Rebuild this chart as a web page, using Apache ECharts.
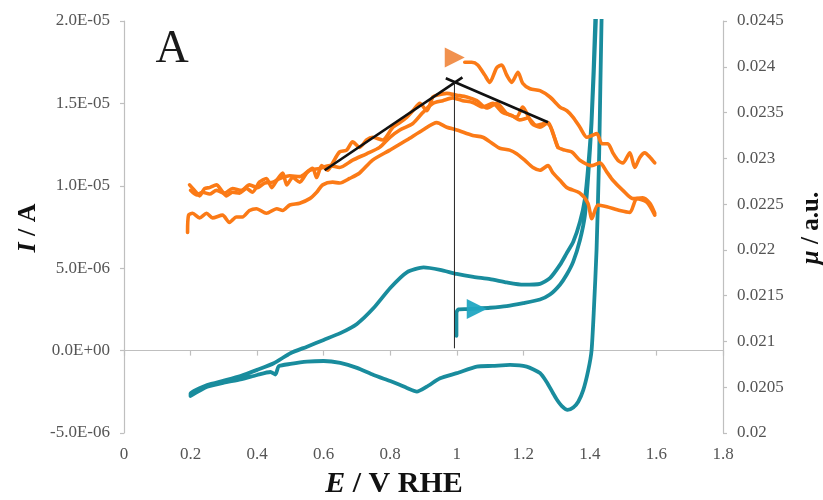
<!DOCTYPE html>
<html>
<head>
<meta charset="utf-8">
<script src="https://cdn.jsdelivr.net/npm/echarts@6/dist/echarts.min.js"></script>
<style>html,body{margin:0;padding:0;background:#fff;}#c{width:823px;height:500px;}</style>
</head>
<body>
<div id="c"></div>
<script>
// ---- axis settings ----
const xTicks = [0, 0.2, 0.4, 0.6, 0.8, 1, 1.2, 1.4, 1.6, 1.8];
const currentRange = [-5e-6, 2e-5, 5e-6];
const muRange = [0.02, 0.0245, 0.0005];

// ---- cyclic voltammogram (E / V, I / A), in scan order ----
const cvScan = [
  [0.999,0.9e-6],[0.999,2.3e-6],[1.005,2.5e-6],[1.03,2.52e-6],[1.06,2.55e-6],[1.1,2.6e-6],[1.15,2.7e-6],
  [1.2,2.88e-6],[1.25,3.1e-6],[1.28,3.4e-6],[1.31,4.0e-6],[1.33,4.6e-6],[1.35,5.4e-6],[1.37,6.7e-6],
  [1.385,8.2e-6],[1.395,10.6e-6],[1.405,13.8e-6],[1.418,2.0e-5],[1.425,2.6e-5],
  [1.445,2.6e-5],[1.435,2.0e-5],[1.428,1.2e-5],[1.42,6.1e-6],[1.412,2.5e-6],[1.405,0],[1.395,-1.2e-6],
  [1.38,-2.4e-6],[1.365,-3.1e-6],[1.35,-3.45e-6],[1.333,-3.6e-6],[1.315,-3.35e-6],[1.3,-2.95e-6],
  [1.289,-2.57e-6],[1.27,-1.9e-6],[1.25,-1.36e-6],[1.21,-0.97e-6],[1.16,-0.87e-6],[1.108,-0.93e-6],
  [1.06,-0.97e-6],[1.0,-1.37e-6],[0.95,-1.68e-6],[0.91,-2.19e-6],[0.88,-2.49e-6],[0.85,-2.27e-6],
  [0.83,-2.09e-6],[0.8,-1.85e-6],[0.75,-1.48e-6],[0.7,-1.05e-6],[0.65,-0.75e-6],[0.6,-0.63e-6],
  [0.55,-0.67e-6],[0.5,-0.81e-6],[0.465,-0.95e-6],[0.455,-1.45e-6],[0.44,-1.3e-6],[0.4,-1.48e-6],
  [0.35,-1.75e-6],[0.3,-1.95e-6],[0.25,-2.2e-6],[0.2,-2.75e-6],
  [0.2,-2.6e-6],[0.25,-2.09e-6],[0.3,-1.82e-6],[0.35,-1.54e-6],[0.4,-1.17e-6],[0.45,-0.77e-6],
  [0.5,-0.16e-6],[0.55,0.24e-6],[0.6,0.65e-6],[0.65,1.06e-6],[0.7,1.62e-6],[0.75,2.58e-6],[0.8,3.8e-6],
  [0.85,4.75e-6],[0.9,5.05e-6],[0.95,4.9e-6],[1.0,4.65e-6],[1.05,4.47e-6],[1.1,4.34e-6],[1.15,4.14e-6],
  [1.2,4.0e-6],[1.25,4.05e-6],[1.28,4.4e-6],[1.31,5.2e-6],[1.33,5.9e-6],[1.35,6.6e-6],[1.37,7.8e-6],
  [1.385,9.2e-6],[1.395,11.2e-6],[1.405,14e-6],[1.416,2.0e-5],[1.422,2.6e-5]
];
const cvArrow = [[1.06, 2.53e-6]];

// ---- XAS signal mu (a.u.) vs E ----
const muScanA = [
  [1.024,0.02405],[1.045,0.02405],[1.063,0.02402],[1.084,0.02391],[1.099,0.02383],[1.120,0.02399],
  [1.135,0.02402],[1.150,0.02391],[1.165,0.02383],[1.184,0.02394],[1.198,0.02382],[1.220,0.02376],
  [1.250,0.02374],[1.280,0.02367],[1.310,0.02356],[1.331,0.02352],[1.349,0.02345],[1.370,0.02334],
  [1.391,0.02323],[1.406,0.02325],[1.421,0.02327],[1.436,0.02316],[1.454,0.02316],[1.469,0.02306],
  [1.484,0.02298],[1.499,0.02295],[1.520,0.02306],[1.535,0.02290],[1.550,0.02301],[1.565,0.02306],
  [1.581,0.02301],[1.595,0.02295]
];
const muScanB = [
  [0.197,0.02271],[0.212,0.02265],[0.227,0.02259],[0.242,0.02267],[0.257,0.02268],[0.278,0.02271],
  [0.293,0.02265],[0.308,0.02259],[0.326,0.02263],[0.347,0.02262],[0.368,0.02267],[0.386,0.02263],
  [0.407,0.02274],[0.428,0.02278],[0.444,0.02268],[0.459,0.02276],[0.477,0.02284],[0.489,0.02271],
  [0.507,0.02279],[0.528,0.02274],[0.549,0.02284],[0.567,0.02289],[0.579,0.02279],[0.594,0.02292],
  [0.612,0.02287],[0.627,0.02295],[0.648,0.02307],[0.669,0.02309],[0.687,0.02318],[0.708,0.02312],
  [0.729,0.02320],[0.747,0.02323],[0.777,0.02320],[0.808,0.02334],[0.829,0.02339],[0.850,0.02345],
  [0.868,0.02352],[0.889,0.02360],[0.910,0.02352],[0.928,0.02367],[0.940,0.02369],[0.970,0.02371],
  [1.000,0.02369],[1.030,0.02367],[1.060,0.02363],[1.090,0.02355],[1.120,0.02360],[1.150,0.02349],
  [1.180,0.02345],[1.198,0.02356],[1.226,0.02338],[1.250,0.02334],[1.271,0.02338],[1.286,0.02331],
  [1.304,0.02312],[1.325,0.02309],[1.346,0.02307],[1.370,0.02298],[1.406,0.02292],[1.430,0.02295],
  [1.451,0.02285],[1.469,0.02276],[1.499,0.02265],[1.529,0.02256],[1.559,0.02257],[1.580,0.02251],
  [1.595,0.02240]
];
const muScanC = [
  [0.200,0.02265],[0.218,0.02260],[0.236,0.02263],[0.257,0.02261],[0.278,0.02265],[0.302,0.02262],
  [0.326,0.02267],[0.353,0.02265],[0.377,0.02271],[0.401,0.02268],[0.423,0.02273],[0.447,0.02274],
  [0.468,0.02278],[0.498,0.02281],[0.528,0.02280],[0.558,0.02287],[0.588,0.02289],[0.618,0.02292],
  [0.648,0.02290],[0.687,0.02298],[0.729,0.02305],[0.768,0.02312],[0.799,0.02323],[0.829,0.02331],
  [0.868,0.02338],[0.898,0.02350],[0.928,0.02360],[0.958,0.02363],[0.988,0.02366],[1.018,0.02363],
  [1.048,0.02361],[1.078,0.02356],[1.108,0.02360],[1.138,0.02350],[1.165,0.02347],[1.189,0.02342],
  [1.214,0.02344],[1.238,0.02336],[1.274,0.02339],[1.289,0.02327],[1.304,0.02312]
];
const muScanD = [
  [0.191,0.02219],[0.194,0.02238],[0.206,0.02240],[0.227,0.02235],[0.248,0.02240],[0.266,0.02235],
  [0.296,0.02238],[0.317,0.02230],[0.338,0.02236],[0.356,0.02236],[0.377,0.02243],[0.398,0.02245],
  [0.428,0.02240],[0.459,0.02245],[0.477,0.02243],[0.498,0.02249],[0.528,0.02251],[0.558,0.02256],
  [0.579,0.02263],[0.597,0.02271],[0.627,0.02274],[0.648,0.02273],[0.678,0.02278],[0.708,0.02284],
  [0.747,0.02298],[0.799,0.02309],[0.850,0.02320],[0.898,0.02331],[0.940,0.02339],[0.970,0.02334],
  [1.000,0.02331],[1.048,0.02325],[1.078,0.02323],[1.108,0.02316],[1.129,0.02311],[1.159,0.02309],
  [1.180,0.02305],[1.204,0.02298],[1.229,0.02290],[1.250,0.02287],[1.274,0.02292],[1.289,0.02284],
  [1.310,0.02276],[1.331,0.02268],[1.370,0.02262],[1.394,0.02251],[1.406,0.02234],[1.424,0.02249],
  [1.451,0.02247],[1.490,0.02243],[1.520,0.02241],[1.541,0.02256],[1.571,0.02252],[1.595,0.02238]
];
const muArrow = [[0.994, 0.0241]];

// ---- guide lines (two linear trends crossing at the maximum, vertical drop) ----
const trendRise = [[0.603, 0.02287], [1.017, 0.023885]];
const trendFall = [[0.967, 0.023874], [1.274, 0.023394]];
const peakDrop = [[0.993, 0.02383], [0.993, 0.020925]];

const FONT = '"Liberation Serif", "Times New Roman", serif';
const CYAN = '#198c9d';
const ORANGE = '#fb7a16';
const AXIS = '#bfbfbf';
const LABEL = '#555555';

function sciLabel(v) {
  if (Math.abs(v) < 1e-12) return '0.0E+00';
  const e = Math.floor(Math.log10(Math.abs(v)) + 1e-9);
  const m = v / Math.pow(10, e);
  return m.toFixed(1) + 'E' + (e < 0 ? '-' : '+') + String(Math.abs(e)).padStart(2, '0');
}

const chart = echarts.init(document.getElementById('c'), null, {renderer: 'canvas'});

function muLine(data) {
  return {type: 'line', xAxisIndex: 0, yAxisIndex: 1, data: data, showSymbol: false, symbol: 'none',
    smooth: 0.25, lineStyle: {color: ORANGE, width: 3.6, join: 'round', cap: 'round'}, z: 3, silent: true};
}

chart.setOption({
  animation: false,
  backgroundColor: '#fff',
  grid: {left: 124, right: 100, top: 21, bottom: 67},
  xAxis: [
    {type: 'value', min: xTicks[0], max: xTicks[xTicks.length - 1], interval: xTicks[1] - xTicks[0],
      position: 'bottom', axisLine: {show: true, onZero: true, onZeroAxisIndex: 0, lineStyle: {color: AXIS, width: 1.2}},
      axisTick: {show: true, inside: false, length: 5, lineStyle: {color: AXIS, width: 1.2}},
      axisLabel: {show: false}, splitLine: {show: false}},
    {type: 'value', min: xTicks[0], max: xTicks[xTicks.length - 1], interval: xTicks[1] - xTicks[0],
      position: 'bottom', axisLine: {show: false, onZero: false}, axisTick: {show: false},
      axisLabel: {show: true, color: LABEL, fontFamily: FONT, fontSize: 17, margin: 13,
        formatter: v => String(Math.round(v * 10) / 10)}, splitLine: {show: false}}
  ],
  yAxis: [
    {type: 'value', position: 'left', min: currentRange[0], max: currentRange[1], interval: currentRange[2],
      axisLine: {show: true, onZero: false, lineStyle: {color: AXIS, width: 1.2}},
      axisTick: {show: true, inside: false, length: 4, lineStyle: {color: AXIS, width: 1.2}},
      axisLabel: {color: LABEL, fontFamily: FONT, fontSize: 17, margin: 14, formatter: sciLabel},
      splitLine: {show: false}},
    {type: 'value', position: 'right', min: muRange[0], max: muRange[1], interval: muRange[2],
      axisLine: {show: true, onZero: false, lineStyle: {color: AXIS, width: 1.2}},
      axisTick: {show: true, inside: false, length: 4, lineStyle: {color: AXIS, width: 1.2}},
      axisLabel: {color: LABEL, fontFamily: FONT, fontSize: 17, margin: 14,
        formatter: v => String(Math.round(v * 1e4) / 1e4)},
      splitLine: {show: false}}
  ],
  series: [
    {type: 'line', xAxisIndex: 0, yAxisIndex: 0, data: cvScan, showSymbol: false, symbol: 'none',
      smooth: 0.2, lineStyle: {color: CYAN, width: 3.8, join: 'round', cap: 'round'}, z: 2, silent: true},
    {type: 'scatter', xAxisIndex: 0, yAxisIndex: 0, data: cvArrow, symbol: 'triangle', symbolRotate: -90,
      symbolSize: [20, 20], itemStyle: {color: '#21a7c2', opacity: 0.95}, z: 4, silent: true},
    muLine(muScanD), muLine(muScanC), muLine(muScanB), muLine(muScanA),
    {type: 'scatter', xAxisIndex: 0, yAxisIndex: 1, data: muArrow, symbol: 'triangle', symbolRotate: -90,
      symbolSize: [20, 20], itemStyle: {color: '#f08b45', opacity: 0.95}, z: 4, silent: true},
    {type: 'line', xAxisIndex: 0, yAxisIndex: 1, data: trendRise, showSymbol: false, symbol: 'none',
      lineStyle: {color: '#111', width: 2.6}, z: 5, silent: true},
    {type: 'line', xAxisIndex: 0, yAxisIndex: 1, data: trendFall, showSymbol: false, symbol: 'none',
      lineStyle: {color: '#111', width: 2.6}, z: 5, silent: true},
    {type: 'line', xAxisIndex: 0, yAxisIndex: 1, data: peakDrop, showSymbol: false, symbol: 'none',
      lineStyle: {color: '#222', width: 1}, z: 5, silent: true}
  ],
  graphic: [
    {type: 'text', x: 172, y: 50, style: {text: 'A', font: '46px ' + FONT, fill: '#1a1a1a',
      align: 'center', verticalAlign: 'middle'}},
    {type: 'text', x: 394, y: 484, style: {
      text: '{i|E}{b| / V RHE}', align: 'center', verticalAlign: 'middle',
      rich: {i: {fontFamily: FONT, fontSize: 30, fontWeight: 'bold', fontStyle: 'italic', fill: '#111', color: '#111'},
             b: {fontFamily: FONT, fontSize: 30, fontWeight: 'bold', fill: '#111', color: '#111'}}}},
    {type: 'text', x: 28, y: 228, rotation: Math.PI / 2, style: {
      text: '{i|I}{b| / A}', align: 'center', verticalAlign: 'middle',
      rich: {i: {fontFamily: FONT, fontSize: 26, fontWeight: 'bold', fontStyle: 'italic', fill: '#111', color: '#111'},
             b: {fontFamily: FONT, fontSize: 26, fontWeight: 'bold', fill: '#111', color: '#111'}}}},
    {type: 'text', x: 812, y: 228, rotation: Math.PI / 2, style: {
      text: '{i|μ}{b| / a.u.}', align: 'center', verticalAlign: 'middle',
      rich: {i: {fontFamily: FONT, fontSize: 25, fontWeight: 'bold', fontStyle: 'italic', fill: '#111', color: '#111'},
             b: {fontFamily: FONT, fontSize: 25, fontWeight: 'bold', fill: '#111', color: '#111'}}}}
  ]
});
</script>
</body>
</html>
